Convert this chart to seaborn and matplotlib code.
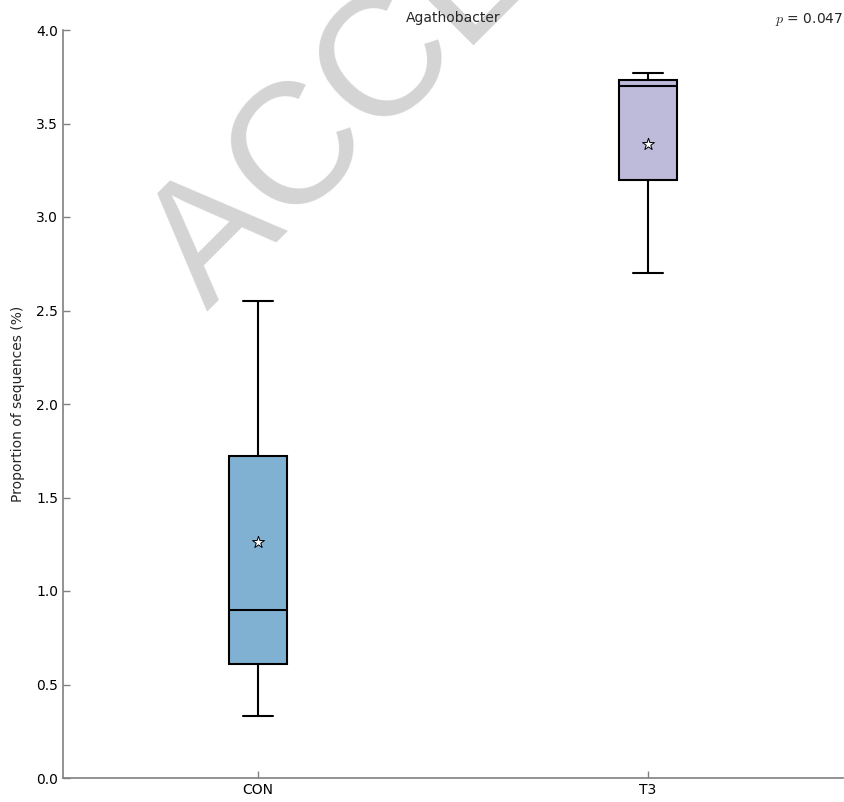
import matplotlib
matplotlib.use("Agg")
import matplotlib.pyplot as plt
import numpy as np
import pandas as pd
import seaborn as sns

# summary points: min, q1, median, q3, max
groups = ["CON", "T3"]
con_values = [0.33, 0.61, 0.90, 1.72, 2.55]
t3_values = [2.70, 3.20, 3.70, 3.73, 3.77]
means = [1.26, 3.39]
box_colors = ["#80b1d3", "#bebada"]
y_ticks = [0.0, 0.5, 1.0, 1.5, 2.0, 2.5, 3.0, 3.5, 4.0]
title = "Agathobacter"
p_text = "$p$ = 0.047"

df = pd.DataFrame({
    "group": ["CON"] * len(con_values) + ["T3"] * len(t3_values),
    "value": con_values + t3_values,
})

sns.set_style("white")
plt.rcParams["font.family"] = ["DejaVu Sans"]
plt.rcParams["mathtext.fontset"] = "cm"

fig = plt.figure(figsize=(8.44, 8.02), dpi=100)
ax = fig.add_axes([63 / 844, 1 - 778 / 802, 780 / 844, 748 / 802])
ax.set_facecolor("none")

sns.boxplot(
    data=df, x="group", y="value", hue="group", order=groups,
    palette=box_colors, saturation=1, width=0.15, whis=(0, 100),
    showfliers=False, linecolor="black", linewidth=1.5, legend=False, ax=ax,
)
sns.stripplot(
    x=groups, y=means, order=groups, jitter=False, marker="*",
    color="white", edgecolor="black", linewidth=0.7, size=9,
    zorder=5, ax=ax,
)

ax.set_xlim(-0.5, 1.5)
ax.set_ylim(0, 4.0)
ax.set_yticks(y_ticks)
ax.set_yticklabels([f"{t:.1f}" for t in y_ticks])
ax.set_xlabel("")
ax.set_ylabel("Proportion of sequences (%)", fontsize=10, labelpad=8)
ax.set_title(title, fontsize=10, pad=6)
ax.text(1.0, 1.003, p_text, transform=ax.transAxes, ha="right", va="bottom", fontsize=10)

for side in ["top", "right"]:
    ax.spines[side].set_visible(False)
for side in ["left", "bottom"]:
    ax.spines[side].set_color("#808080")
    ax.spines[side].set_linewidth(1.2)
ax.tick_params(direction="in", length=5, width=1, color="#808080",
               labelsize=10, labelcolor="black", left=True, bottom=True)

# manuscript watermark, drawn under the axes
fig.text(207 / 844, 1 - 312 / 802, "ACCEPTED", rotation=45, rotation_mode="anchor",
         ha="left", va="baseline", fontsize=124, family="Liberation Sans",
         color="#d4d4d4", zorder=-1)

fig.savefig("out.png", dpi=100, facecolor="white")
